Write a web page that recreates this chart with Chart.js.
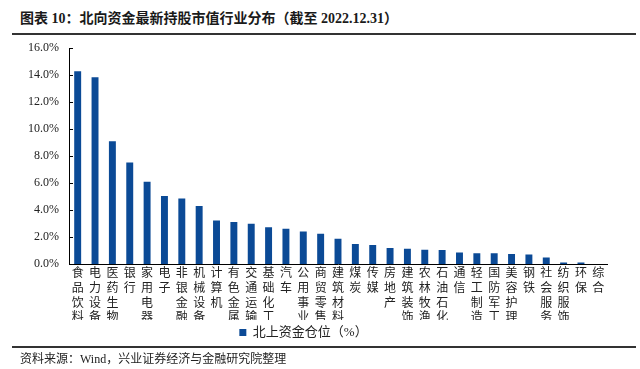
<!DOCTYPE html>
<html>
<head>
<meta charset="utf-8">
<script src="https://cdn.jsdelivr.net/npm/chart.js@4.4.0/dist/chart.umd.min.js"></script>
<style>
  body { margin: 0; width: 640px; height: 369px; background: #fff; position: relative; overflow: hidden; }
  #title { position: absolute; left: 20px; top: 7px; font: bold 14px "Liberation Serif", "Noto Sans CJK SC"; color: #1a1a1a; white-space: nowrap; }
  .rule { position: absolute; left: 12px; width: 624px; height: 1.5px; background: #333; }
  #source { position: absolute; left: 20px; top: 349px; font: 12px "Liberation Serif", "Noto Sans CJK SC"; color: #222; white-space: nowrap; }
  #wrap { position: absolute; left: 0; top: 31px; width: 640px; height: 318px; }
</style>
</head>
<body>
<div id="title">图表 10：北向资金最新持股市值行业分布（截至 2022.12.31）</div>
<div class="rule" style="top:33px"></div>
<div id="wrap"><canvas id="myChart"></canvas></div>
<div class="rule" style="top:346px"></div>
<div id="source">资料来源：Wind，兴业证券经济与金融研究院整理</div>
<script>
const industries = ["食品饮料", "电力设备", "医药生物", "银行", "家用电器", "电子", "非银金融", "机械设备",
  "计算机", "有色金属", "交通运输", "基础化工", "汽车", "公用事业", "商贸零售", "建筑材料", "煤炭", "传媒",
  "房地产", "建筑装饰", "农林牧渔", "石油石化", "通信", "轻工制造", "国防军工", "美容护理", "钢铁",
  "社会服务", "纺织服饰", "环保", "综合"];
const holdings = [14.3, 13.85, 9.1, 7.53, 6.1, 5.04, 4.85, 4.3, 3.22, 3.12, 2.98, 2.73, 2.61, 2.41, 2.24,
  1.87, 1.48, 1.4, 1.18, 1.13, 1.06, 1.03, 0.86, 0.79, 0.79, 0.74, 0.7, 0.48, 0.12, 0.12, 0.0];
const yTicks = [0, 2, 4, 6, 8, 10, 12, 14, 16];
const seriesName = "北上资金仓位（%）";

const barColor = "#0b4a96";
const cjk = "'Liberation Serif', 'Noto Sans CJK SC'";

// inward tick marks on the y axis
const innerTicks = {
  id: "innerTicks",
  afterDraw(chart) {
    const y = chart.scales.y;
    const ctx = chart.ctx;
    ctx.save();
    ctx.strokeStyle = "#000";
    ctx.lineWidth = 1;
    yTicks.forEach(v => {
      const py = Math.round(y.getPixelForValue(v)) + 0.5;
      ctx.beginPath();
      ctx.moveTo(y.right, py);
      ctx.lineTo(y.right + 4, py);
      ctx.stroke();
    });
    ctx.restore();
  }
};

const myChart = new Chart(document.getElementById("myChart"), {
  type: "bar",
  data: {
    labels: industries.map(s => s.split("")),
    datasets: [{
      label: seriesName,
      data: holdings,
      backgroundColor: barColor,
      borderWidth: 0,
      categoryPercentage: 1,
      barPercentage: 0.4,
    }],
  },
  options: {
    responsive: true,
    maintainAspectRatio: false,
    animation: false,
    layout: { padding: { top: 0, right: 33, left: 0, bottom: 0 } },
    plugins: {
      tooltip: { enabled: false },
      legend: {
        position: "bottom",
        labels: {
          boxWidth: 7,
          boxHeight: 7,
          padding: 6,
          color: "#222",
          font: { family: cjk, size: 13 },
        },
      },
    },
    scales: {
      x: {
        grid: { display: false, drawTicks: false },
        border: { display: true, color: "#000", width: 1 },
        ticks: {
          autoSkip: false,
          maxRotation: 0,
          minRotation: 0,
          padding: 3,
          color: "#222",
          font: { family: cjk, size: 12, lineHeight: 1.22 },
        },
        afterFit(scale) { scale.height = 56; },
      },
      y: {
        min: 0,
        max: 16,
        grid: { display: false, drawTicks: false },
        border: { display: true, color: "#000", width: 1 },
        afterBuildTicks(scale) { scale.ticks = yTicks.map(v => ({ value: v })); },
        ticks: {
          padding: 10,
          color: "#222",
          font: { family: "'Liberation Serif'", size: 12 },
          callback: v => v.toFixed(1) + "%",
        },
        afterFit(scale) { scale.width = 69; },
      },
    },
  },
  plugins: [innerTicks],
});
</script>
</body>
</html>
